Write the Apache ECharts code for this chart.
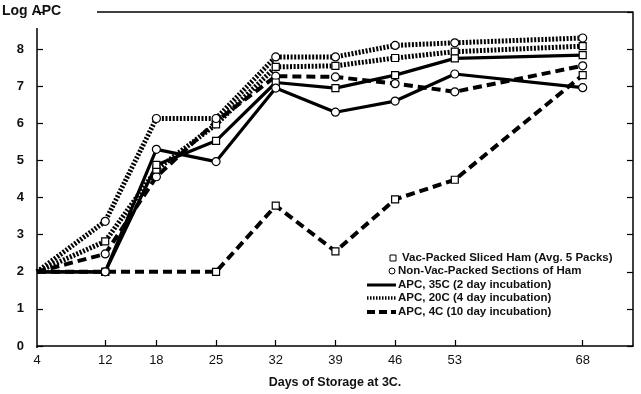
<!DOCTYPE html>
<html>
<head>
<meta charset="utf-8">
<script src="https://cdn.jsdelivr.net/npm/echarts@6/dist/echarts.min.js"></script>
<style>
html,body{margin:0;padding:0;background:#fff;}
#c{width:641px;height:394px;}
</style>
</head>
<body>
<div id="c"></div>
<script>
const days = [4, 12, 18, 25, 32, 39, 46, 53, 68];
const vac35 = [2.0, 2.0, 4.88, 5.53, 7.1, 6.95, 7.3, 7.75, 7.84];
const vac20 = [2.0, 2.82, 4.75, 5.97, 7.52, 7.55, 7.76, 7.93, 8.08];
const vac4  = [2.0, 2.0, null, 2.0, 3.78, 2.55, 3.95, 4.48, 7.3];
const non35 = [2.0, 2.0, 5.3, 4.97, 6.95, 6.3, 6.6, 7.33, 6.96];
const non20 = [2.0, 3.36, 6.13, 6.13, 7.79, 7.79, 8.1, 8.17, 8.3];
const non4  = [2.0, 2.48, 4.56, 6.05, 7.27, 7.25, 7.07, 6.85, 7.55];
const xTickLabels = [4, 12, 18, 25, 32, 39, 46, 53, 68];
const yTickLabels = [0, 1, 2, 3, 4, 5, 6, 7, 8];
const legendTexts = [
  'Vac-Packed Sliced Ham (Avg. 5 Packs)',
  'Non-Vac-Packed Sections of Ham',
  'APC, 35C (2 day incubation)',
  'APC, 20C (4 day incubation)',
  'APC, 4C (10 day incubation)'
];

const styles = {
  solid: {type: 'solid', width: 3.2},
  dotted: {type: [2, 1.6], width: 5, cap: 'butt'},
  dashed: {type: [9, 5], width: 4, cap: 'butt'}
};

function mk(name, vals, style, symbol) {
  return {
    name: name,
    type: 'line',
    data: days.map((d, i) => i === 0 ? {value: [d, vals[i]], symbol: 'none'} : [d, vals[i]]),
    connectNulls: true,
    symbol: symbol,
    symbolSize: symbol === 'circle' ? 8 : 7,
    showAllSymbol: true,
    lineStyle: Object.assign({color: '#000'}, styles[style]),
    itemStyle: {color: '#fff', borderColor: '#000', borderWidth: 1.2},
    z: 3
  };
}

const chart = echarts.init(document.getElementById('c'), null, {renderer: 'canvas'});
const font = 'Liberation Sans, Arial, sans-serif';
const lx = 367, lt = 398;
const legendRows = [258, 271, 285, 298, 312];

chart.setOption({
  animation: false,
  backgroundColor: '#fff',
  grid: {left: 37, right: 8, top: 12, bottom: 46, containLabel: false},
  xAxis: {
    type: 'value', min: 4, max: 73.9,
    name: 'Days of Storage at 3C.', nameLocation: 'middle', nameGap: 30,
    nameTextStyle: {fontFamily: font, fontWeight: 'bold', fontSize: 12.5, color: '#111'},
    axisLine: {show: true, lineStyle: {color: '#000', width: 1.5}},
    axisTick: {show: true, inside: true, length: 6, customValues: xTickLabels.slice(1), lineStyle: {color: '#000', width: 1.2}},
    axisLabel: {customValues: xTickLabels, margin: 8, fontFamily: 'Liberation Sans Narrow, Arial Narrow, Liberation Sans, sans-serif', fontSize: 13, color: '#111'},
    splitLine: {show: false}
  },
  yAxis: [{
    type: 'value', min: 0, max: 9, interval: 1,
    axisLine: {show: false},
    axisTick: {show: true, inside: true, length: 6, lineStyle: {color: '#000', width: 1.2}},
    axisLabel: {margin: 13, fontFamily: font, fontWeight: 'bold', fontSize: 13, color: '#111',
      formatter: v => yTickLabels.indexOf(v) >= 0 ? String(v) : ''},
    splitLine: {show: false}
  }, {
    type: 'value', min: 0, max: 9, interval: 1, position: 'right',
    axisLine: {show: true, lineStyle: {color: '#000', width: 1.5}},
    axisTick: {show: true, inside: true, length: 6, lineStyle: {color: '#000', width: 1.2}},
    axisLabel: {show: false},
    splitLine: {show: false}
  }],
  series: [
    mk('vac4', vac4, 'dashed', 'rect'),
    mk('non4', non4, 'dashed', 'circle'),
    mk('vac20', vac20, 'dotted', 'rect'),
    mk('non20', non20, 'dotted', 'circle'),
    mk('vac35', vac35, 'solid', 'rect'),
    mk('non35', non35, 'solid', 'circle')
  ],
  graphic: [
    {type: 'line', shape: {x1: 37, y1: 28, x2: 37, y2: 348}, style: {stroke: '#000', lineWidth: 1.5}},
    {type: 'line', shape: {x1: 97, y1: 12, x2: 633, y2: 12}, style: {stroke: '#000', lineWidth: 1.5}},
    {type: 'text', left: 2, top: 4, style: {text: 'Log APC', font: 'bold 14px ' + font, fill: '#111'}},
    {type: 'rect', shape: {x: 390, y: legendRows[0] - 3, width: 6, height: 6}, style: {fill: '#fff', stroke: '#000', lineWidth: 1}},
    {type: 'circle', shape: {cx: 392, cy: legendRows[1], r: 3}, style: {fill: '#fff', stroke: '#000', lineWidth: 1}},
    {type: 'line', shape: {x1: lx, y1: legendRows[2], x2: 396, y2: legendRows[2]}, style: {stroke: '#000', lineWidth: 3}},
    {type: 'line', shape: {x1: lx, y1: legendRows[3], x2: 396, y2: legendRows[3]}, style: {stroke: '#000', lineWidth: 3.5, lineDash: [1.5, 1.5]}},
    {type: 'line', shape: {x1: lx, y1: legendRows[4], x2: 396, y2: legendRows[4]}, style: {stroke: '#000', lineWidth: 4, lineDash: [8, 4]}},
    {type: 'text', x: 402, y: legendRows[0], style: {text: legendTexts[0], font: 'bold 11.5px ' + font, fill: '#111', textVerticalAlign: 'middle'}},
    {type: 'text', x: lt, y: legendRows[1], style: {text: legendTexts[1], font: 'bold 11.5px ' + font, fill: '#111', textVerticalAlign: 'middle'}},
    {type: 'text', x: lt, y: legendRows[2], style: {text: legendTexts[2], font: 'bold 11.5px ' + font, fill: '#111', textVerticalAlign: 'middle'}},
    {type: 'text', x: lt, y: legendRows[3], style: {text: legendTexts[3], font: 'bold 11.5px ' + font, fill: '#111', textVerticalAlign: 'middle'}},
    {type: 'text', x: lt, y: legendRows[4], style: {text: legendTexts[4], font: 'bold 11.5px ' + font, fill: '#111', textVerticalAlign: 'middle'}}
  ]
});
</script>
</body>
</html>
